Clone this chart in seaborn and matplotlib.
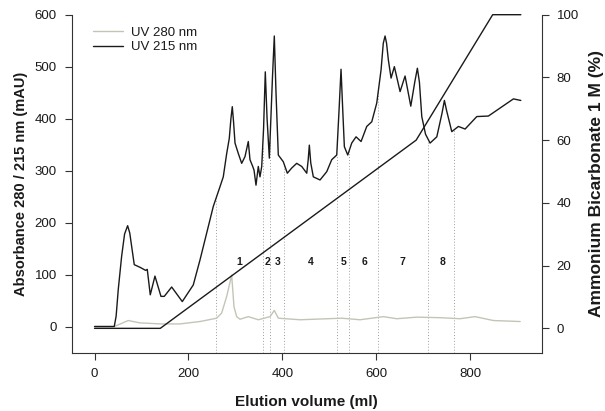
import numpy as np
import pandas as pd
import matplotlib
matplotlib.use("Agg")
import matplotlib.pyplot as plt
import seaborn as sns

# UV 215 nm trace: elution volume (ml) / absorbance (mAU)
uv215_ml = [0, 42, 46, 50.5, 57.7, 64, 70.5, 75, 84.6, 96.7, 108.9, 112.3, 118.7, 128.7, 141.5,
            148.5, 164.3, 186.9, 210.3, 224.6, 238.9, 252.9, 267.2, 274.2, 281.5,
            287, 290.5, 293.4, 296, 299.2, 306.2, 313.4, 320.5, 327.5, 331.1, 336.9, 339.7,
            343.9, 348.8, 352.4, 356.1, 360, 363.7, 367.5, 372.3, 379, 382.9, 386.5, 391.4,
            402.1, 410.6, 420, 430.6, 441.3, 452, 455, 457.5, 460.5, 466, 480.3, 494.6,
            505.2, 515.9, 521, 525, 528.5, 532.1, 539.3, 547.8, 557, 567.7, 579.8, 590.5,
            601.1, 610.3, 615, 618.8, 622, 625.8, 631.6, 638.6, 650.8, 661.4, 673.6, 682,
            687.6, 692, 697, 705, 714.7, 729, 740, 745.2, 750, 760.9, 775, 789.3, 814.2,
            838.9, 892.2, 907.9]
uv215_mau = [0, 0, 20, 71, 135, 178, 194, 180, 119, 114, 108, 110, 61, 97, 58,
             58, 76, 48, 80, 128, 180, 231, 269, 288, 333,
             362, 400, 423, 395, 353, 333, 314, 327, 356, 321, 308, 301,
             272, 308, 288, 308, 380, 490, 400, 324, 480, 559, 450, 330,
             317, 295, 305, 314, 308, 295, 320, 349, 315, 288, 282, 298,
             321, 330, 420, 495, 420, 346, 330, 353, 365, 356, 385, 394,
             430, 494, 545, 559, 545, 513, 478, 500, 452, 482, 424, 470,
             497, 470, 404, 370, 353, 365, 410, 435, 415, 375, 385, 380, 404,
             405, 438, 435]

# UV 280 nm trace
uv280_ml = [0, 42, 71.8, 96.7, 141.5, 182, 224.6, 260, 270.8, 281.5, 292.1, 297,
            302.8, 309.8, 327.5, 348.8, 373.8, 382.9, 391.4, 437.7, 526.5, 565.5,
            615.2, 643.7, 686.3, 736, 778.6, 810.6, 849.6, 906.5]
uv280_mau = [0, 0, 11.5, 7, 5, 5, 9.6, 16, 26, 58, 99, 38,
             19, 14, 19, 13, 19, 31, 16, 13, 16, 13,
             19, 15, 18, 17, 15, 19, 11.5, 9.6]

# Ammonium bicarbonate gradient (%)
grad_ml = [0, 140, 685, 848, 908]
grad_pct = [0, 0, 60, 100, 100]

# Fraction boundaries and labels
cut_ml = [259, 358, 373.6, 403.4, 515.9, 542.7, 604.5, 711, 766.5]
frac_labels = ["1", "2", "3", "4", "5", "6", "7", "8"]
frac_label_ml = [308.5, 368.9, 390.2, 460.5, 530, 574.1, 656.5, 740.3]
frac_label_mau = 125

x_ticks = [0, 200, 400, 600, 800]
left_ticks = [0, 100, 200, 300, 400, 500, 600]
right_ticks = [0, 20, 40, 60, 80, 100]

sns.set_theme(style="ticks")
plt.rcParams["font.family"] = ["Liberation Sans", "DejaVu Sans"]

text_col = "#1a1a1a"
fig = plt.figure(figsize=(6.05, 4.11), dpi=100)
ax = fig.add_axes([72 / 605, 1 - 352.5 / 411, 469.5 / 605, 337.8 / 411])

df = pd.concat([
    pd.DataFrame({"ml": uv280_ml, "mAU": uv280_mau, "trace": "UV 280 nm"}),
    pd.DataFrame({"ml": uv215_ml, "mAU": uv215_mau, "trace": "UV 215 nm"}),
], ignore_index=True)

sns.lineplot(data=df, x="ml", y="mAU", hue="trace",
             palette={"UV 280 nm": "#c4c4b6", "UV 215 nm": "#1a1a1a"},
             linewidth=1.0, ax=ax, sort=False, estimator=None,
             solid_joinstyle="round")

# fraction cut marks, dotted from the bottom up to the 215 nm trace
for c in cut_ml:
    top = np.interp(c, uv215_ml, uv215_mau)
    ax.plot([c, c], [-50, top], color="#a0a0a0", lw=0.7, ls=(0, (1, 2)), zorder=1)

for lab, xm in zip(frac_labels, frac_label_ml):
    ax.text(xm, frac_label_mau, lab, ha="center", va="center",
            fontsize=7.5, fontweight="bold", color=text_col)

ax.set_xlim(-48, 952)
ax.set_ylim(-50, 600)
ax.set_xticks(x_ticks)
ax.set_yticks(left_ticks)
ax.set_xlabel("Elution volume (ml)", fontsize=11, fontweight="bold",
              color=text_col, labelpad=11)
ax.set_ylabel("Absorbance 280 / 215 nm (mAU)", fontsize=10.5, fontweight="bold",
              color=text_col, labelpad=5)

ax2 = ax.twinx()
gdf = pd.DataFrame({"ml": grad_ml, "pct": grad_pct})
sns.lineplot(data=gdf, x="ml", y="pct", color="#1a1a1a", linewidth=1.0,
             ax=ax2, sort=False, estimator=None, clip_on=False)
ax2.set_ylim(-7.7, 100)
ax2.set_yticks(right_ticks)
ax2.set_ylabel("Ammonium Bicarbonate 1 M (%)", fontsize=12.5, fontweight="bold",
               color=text_col, labelpad=7)

for a in (ax, ax2):
    a.spines["top"].set_visible(False)
    for s in a.spines.values():
        s.set_linewidth(0.8)
        s.set_color("#333333")
    a.tick_params(axis="both", labelsize=9.5, colors="#333333", labelcolor=text_col,
                  length=5, width=0.8, direction="out", pad=6)
ax.spines["right"].set_visible(False)
ax2.spines["left"].set_visible(False)
ax2.spines["bottom"].set_visible(False)
ax2.spines["right"].set_visible(True)

leg = ax.legend(loc="upper left", bbox_to_anchor=(0.031, 0.985), frameon=False,
                fontsize=9.5, handlelength=2.3, handletextpad=0.6, borderpad=0,
                labelspacing=0.2, title=None)
for t in leg.get_texts():
    t.set_color(text_col)

fig.savefig("out.png", dpi=100)
